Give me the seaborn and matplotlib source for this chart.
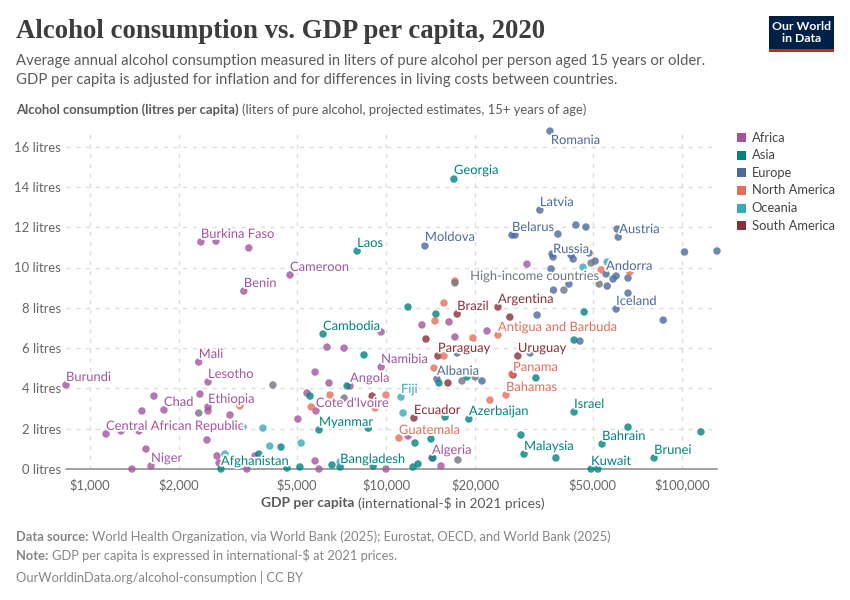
import numpy as np
import pandas as pd
import matplotlib
matplotlib.use("Agg")
import matplotlib.pyplot as plt
from matplotlib.patches import Rectangle
import matplotlib.patheffects as pe
import seaborn as sns

africa_gdp = [2370,2665,3440,4740,3310,830,2330,2505,2353,1645,1778,1498,2505,2505,2972,1133,1273,1464,1546,1608,1386,2485,2686,2730,3390,3610,5760,6320,7220,9630,6420,5410,5800,5040,5760,5940,7560,9630,10000,13230,16330,17100,21950,14300,15340,11870,29950]
africa_alc = [11.27,11.31,10.97,9.63,8.83,4.17,5.31,4.32,3.72,3.62,2.93,2.88,3.08,2.88,2.68,1.74,1.89,1.89,0.99,0.15,0,1.44,0.65,0.30,0,0.65,4.81,6.05,6.0,6.8,4.27,3.77,2.88,2.48,0.40,0,4.12,5.06,0,7.15,7.30,6.55,6.85,0.55,0.15,1.64,10.17]
asia_gdp = [16970,7990,6130,8430,7390,5540,5940,8710,2770,3720,4420,4630,5120,6570,7000,9050,11870,14750,46700,43200,15100,18770,32100,43200,19060,15830,65700,115900,53700,28580,29270,37500,80500,49300,52000,12530,14190,12340,12830,14410]
asia_alc = [14.39,10.82,6.70,5.66,4.12,3.62,1.94,2.03,0,0.74,1.09,0.05,0.10,0.20,0.10,0.15,8.04,7.69,7.79,6.40,4.27,4.57,4.52,2.83,2.48,2.58,2.08,1.84,1.24,1.69,0.74,0.55,0.55,0,0,1.29,1.49,0.10,0.25,0.55]
europe_gdp = [35800,33100,26650,27300,38100,43800,47400,60900,60400,102000,131300,13540,36400,36700,42200,42900,48500,50900,36100,55400,59900,58500,65700,55900,41500,36800,65700,59900,86400,32400,45200,14860,21100,30700,17400]
europe_alc = [16.77,12.85,11.61,11.61,11.66,12.11,12.01,11.51,11.91,10.77,10.82,11.07,10.67,10.52,10.62,10.42,10.72,10.32,9.93,9.68,9.58,9.43,9.48,9.08,9.18,8.88,8.73,7.94,7.39,7.64,6.35,4.47,4.37,5.76,5.76]
namerica_gdp = [3210,6470,5590,10000,9190,15700,14640,19670,23900,15700,14530,26650,25440,22450,11060,53300,17100,66700]
namerica_alc = [3.13,3.67,3.08,3.67,3.03,8.24,7.35,6.50,6.65,5.61,5.01,4.71,3.67,3.42,1.54,9.88,9.33,9.78]
oceania_gdp = [2858,3840,4050,5170,7000,3290,11240,11420,46300,55900]
oceania_alc = [0.74,2.03,1.14,1.29,0.35,2.08,3.57,2.78,10.02,10.27]
samerica_gdp = [8980,17400,23900,26200,13650,14980,27900,26860,16190,12430]
samerica_alc = [3.62,7.69,8.04,7.54,6.45,5.61,5.61,4.67,4.27,2.53]
aggregate_gdp = [52500,49300,39900,18060,20000,17500,4150,7220,2330,17100]
aggregate_alc = [9.18,10.22,8.88,4.37,4.57,0.45,4.17,3.52,2.78,9.23]

continents = ["Africa","Asia","Europe","North America","Oceania","South America"]
colors = {"Africa":"#A2559C","Asia":"#00847E","Europe":"#4C6A9C","North America":"#E56E5A",
          "Oceania":"#38AABA","South America":"#883039","Aggregate":"#6e7581"}

labels = [
 ("Romania",35800,16.77,"Europe",1,9),("Georgia",16970,14.39,"Asia",0,-9),("Latvia",33100,12.85,"Europe",0,-8),
 ("Belarus",26650,11.61,"Europe",0,-8),("Austria",60900,11.51,"Europe",1,-8),("Moldova",13540,11.07,"Europe",0,-9),
 ("Laos",7990,10.82,"Asia",0,-8),("Burkina Faso",2370,11.27,"Africa",0,-8),("Russia",36400,10.67,"Europe",1,-5),
 ("Andorra",55400,9.68,"Europe",0,-8),("High-income countries",52500,9.18,"Aggregate",-129,-8),("Cameroon",4740,9.63,"Africa",0,-8),
 ("Benin",3310,8.83,"Africa",0,-8),("Iceland",59900,7.94,"Europe",0,-8),("Brazil",17400,7.69,"South America",0,-8),
 ("Argentina",23900,8.04,"South America",0,-8),("Cambodia",6130,6.70,"Asia",0,-8),("Antigua and Barbuda",23900,6.65,"North America",0,-8),
 ("Paraguay",14980,5.61,"South America",0,-8),("Uruguay",27900,5.61,"South America",0,-8),("Mali",2330,5.31,"Africa",0,-8),
 ("Namibia",9630,5.06,"Africa",0,-8),("Panama",26650,4.71,"North America",1,-7),("Lesotho",2505,4.32,"Africa",0,-8),
 ("Burundi",830,4.17,"Africa",0,-8),("Albania",14860,4.47,"Europe",0,-8),("Angola",7560,4.12,"Africa",0,-8),
 ("Bahamas",25440,3.67,"North America",0,-8),("Fiji",11240,3.57,"Oceania",0,-8),("Chad",1778,2.93,"Africa",0,-8),
 ("Ethiopia",2505,3.08,"Africa",0,-8),("Cote d'Ivoire",5800,2.88,"Africa",0,-8),("Israel",43200,2.83,"Asia",0,-8),
 ("Ecuador",12430,2.53,"South America",0,-8),("Azerbaijan",19060,2.48,"Asia",0,-8),("Myanmar",5940,1.94,"Asia",0,-8),
 ("Central African Republic",1133,1.74,"Africa",0,-8),("Guatemala",11060,1.54,"North America",0,-8),("Bahrain",53700,1.24,"Asia",0,-8),
 ("Malaysia",29270,0.74,"Asia",0,-8),("Brunei",80500,0.55,"Asia",0,-8),("Algeria",14300,0.55,"Africa",0,-8),
 ("Niger",1608,0.15,"Africa",0,-8),("Bangladesh",7000,0.10,"Asia",0,-8),("Afghanistan",2770,0,"Asia",0,-8),
 ("Kuwait",49300,0,"Asia",0,-8),
]
y_ticks = [0,2,4,6,8,10,12,14,16]
x_ticks = [1000,2000,5000,10000,20000,50000,100000]
x_tick_labels = ["$1,000","$2,000","$5,000","$10,000","$20,000","$50,000","$100,000"]

frames = []
for name, g, a in [("Africa",africa_gdp,africa_alc),("Asia",asia_gdp,asia_alc),("Europe",europe_gdp,europe_alc),
                   ("South America",samerica_gdp,samerica_alc),("North America",namerica_gdp,namerica_alc),
                   ("Oceania",oceania_gdp,oceania_alc),("Aggregate",aggregate_gdp,aggregate_alc)]:
    frames.append(pd.DataFrame({"gdp":g,"alcohol":a,"group":name}))
df = pd.concat(frames, ignore_index=True)

sns.set_theme(style="white")
plt.rcParams["font.family"] = ["Lato","DejaVu Sans"]
W, H = 850, 600
fig = plt.figure(figsize=(W/100, H/100), dpi=100, facecolor="white")
L, R, T, B = 66, 717, 130, 469
ax = fig.add_axes([L/W, 1-B/H, (R-L)/W, (B-T)/H])
px = 1/100*72  # points per pixel

sns.scatterplot(data=df, x="gdp", y="alcohol", hue="group", palette=colors, ax=ax, s=29,
                alpha=0.8, linewidth=0, legend=False, clip_on=False, zorder=3)
ax.set_xscale("log")
ax.set_xlim(830, 131300)
ax.set_ylim(0, (B-T)/20.15)
ax.set_xlabel(""); ax.set_ylabel("")
for s in ax.spines.values():
    s.set_visible(False)
ax.set_xticks(x_ticks); ax.set_xticklabels(x_tick_labels)
ax.xaxis.set_minor_locator(matplotlib.ticker.NullLocator())
ax.set_yticks(y_ticks); ax.set_yticklabels([f"{v} litres" for v in y_ticks])
ax.tick_params(axis="both", length=0, labelsize=9.4, labelcolor="#666666")
ax.tick_params(axis="x", pad=6.5)
ax.tick_params(axis="y", pad=3.5)
ax.grid(True, color="#dddddd", linewidth=1, linestyle=(0,(3,4)), zorder=0)
ax.set_axisbelow(True)
ax.axhline(0, color="#a1a1a1", linewidth=1.4, zorder=2, clip_on=False)

for name, g, a, grp, dx, dy in labels:
    ax.annotate(name, xy=(g,a), xytext=(dx*px, -dy*px), textcoords="offset points", ha="left", va="center",
                fontsize=9.3, color=colors[grp], zorder=5,
                path_effects=[pe.withStroke(linewidth=2.6, foreground="white")], annotation_clip=False)

def T_(x, y, s, **k):
    return fig.text(x/W, 1-y/H, s, va="center", **k)

def rich(x, y, bold, normal, size, color):
    t = T_(x, y, bold, fontsize=size, color=color, fontweight="bold")
    fig.canvas.draw()
    bb = t.get_window_extent()
    T_(bb.x1 + 3.2, y, normal, fontsize=size, color=color)

T_(16, 32, "Alcohol consumption vs. GDP per capita, 2020", fontsize=19.3, color="#3d3d3d",
   fontweight="bold", family=["Liberation Serif","DejaVu Serif"])
T_(16, 61, "Average annual alcohol consumption measured in liters of pure alcohol per person aged 15 years or older.", fontsize=10.75, color="#5b5b5b")
T_(16, 80, "GDP per capita is adjusted for inflation and for differences in living costs between countries.", fontsize=10.75, color="#5b5b5b")
rich(16, 110, "Alcohol consumption (litres per capita)", "(liters of pure alcohol, projected estimates, 15+ years of age)", 9.4, "#5b5b5b")
rich(261, 503, "GDP per capita", "(international-$ in 2021 prices)", 9.95, "#5b5b5b")
rich(16, 537, "Data source:", "World Health Organization, via World Bank (2025); Eurostat, OECD, and World Bank (2025)", 9.3, "#858585")
rich(16, 556, "Note:", "GDP per capita is expressed in international-$ at 2021 prices.", 9.3, "#858585")
T_(16, 577, "OurWorldinData.org/alcohol-consumption | CC BY", fontsize=9.3, color="#858585")

for c, y in zip(continents, [137.6,155.2,172.9,190.5,208.1,225.7]):
    fig.add_artist(Rectangle((737/W, 1-(y+4.5)/H), 9/W, 9/H, transform=fig.transFigure, color=colors[c], lw=0))
    T_(751.5, y, c, fontsize=9.25, color="#444444")

fig.add_artist(Rectangle((769/W, 1-52/H), 65/W, 36/H, transform=fig.transFigure, color="#002147", lw=0))
fig.add_artist(Rectangle((769/W, 1-52/H), 65/W, 2.6/H, transform=fig.transFigure, color="#ce261e", lw=0))
fig.text(801.5/W, 1-27/H, "Our World", ha="center", va="center", color="white", fontsize=8.8, fontweight="bold")
fig.text(801.5/W, 1-39/H, "in Data", ha="center", va="center", color="white", fontsize=8.8, fontweight="bold")

fig.savefig("out.png", dpi=100)
